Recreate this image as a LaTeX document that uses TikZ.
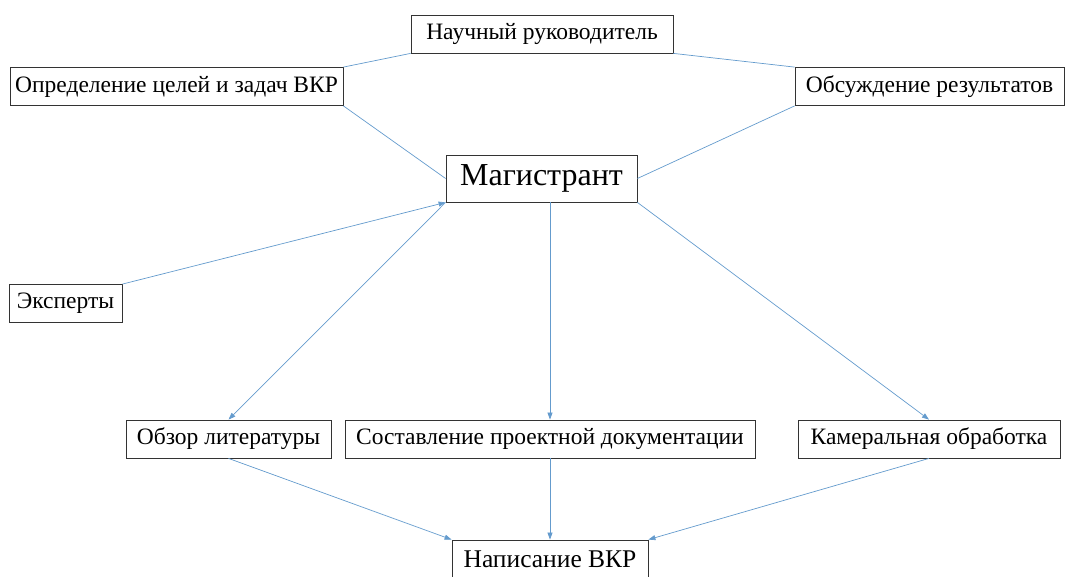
\documentclass[tikz,border=0pt]{standalone}
\usepackage{fontspec}
\setmainfont{Liberation Serif}
\usetikzlibrary{arrows.meta}
\definecolor{linkblue}{RGB}{100,155,205}
\tikzset{
  tip/.style={-{Triangle[length=7pt,width=5pt]}}
}
\begin{document}
\begin{tikzpicture}[x=1pt,y=-1pt]
        \useasboundingbox (0,0) rectangle (1066,577);

        \begin{scope}[every node/.style={draw=black!80,line width=.8pt,fill=white,inner xsep=4pt,minimum height=38pt,font=\fontsize{23.5}{26}\selectfont}]
          \node[minimum width=262pt] (ruk)  at (542,34)     {Научный руководитель};
          \node[minimum width=333pt] (cel)  at (176.5,86.5) {Определение целей и задач ВКР};
          \node[minimum width=269pt] (obs)  at (929.5,86.5) {Обсуждение результатов};
          \node[minimum width=191pt,minimum height=47pt,font=\fontsize{32}{36}\selectfont]
                (mag)  at (541.5,178.5) {Магистрант};
          \node[minimum width=113pt] (eksp) at (65.5,303.5) {Эксперты};
          \node[minimum width=205pt] (lit)  at (228.5,439)  {Обзор литературы};
          \node[minimum width=410pt] (doc)  at (550,439)    {Составление проектной документации};
          \node[minimum width=262pt] (kam)  at (929,439)    {Камеральная обработка};
          \node[minimum width=196pt,font=\fontsize{25.5}{28}\selectfont]
                (nap)  at (550,559)    {Написание ВКР};
        \end{scope}

        \begin{scope}[every edge/.style={draw=linkblue,line width=.7pt}]
          \path (ruk.south west) edge (cel.north east);
          \path (ruk.south east) edge (obs.north west);
          \path (cel.south east) edge (mag.west);
          \path (mag.east)       edge (obs.south west);
          \path (eksp.north east) edge[tip] (mag.south west);
          \path (mag.south west) edge[tip] (lit.north);
          \path (doc.north |- mag.south) edge[tip] (doc.north);
          \path (mag.south east) edge[tip] (kam.north);
          \path (lit.south) edge[tip] (nap.north west);
          \path (doc.south) edge[tip] (nap.north);
          \path (kam.south) edge[tip] (nap.north east);
        \end{scope}

      \end{tikzpicture}
\end{document}
